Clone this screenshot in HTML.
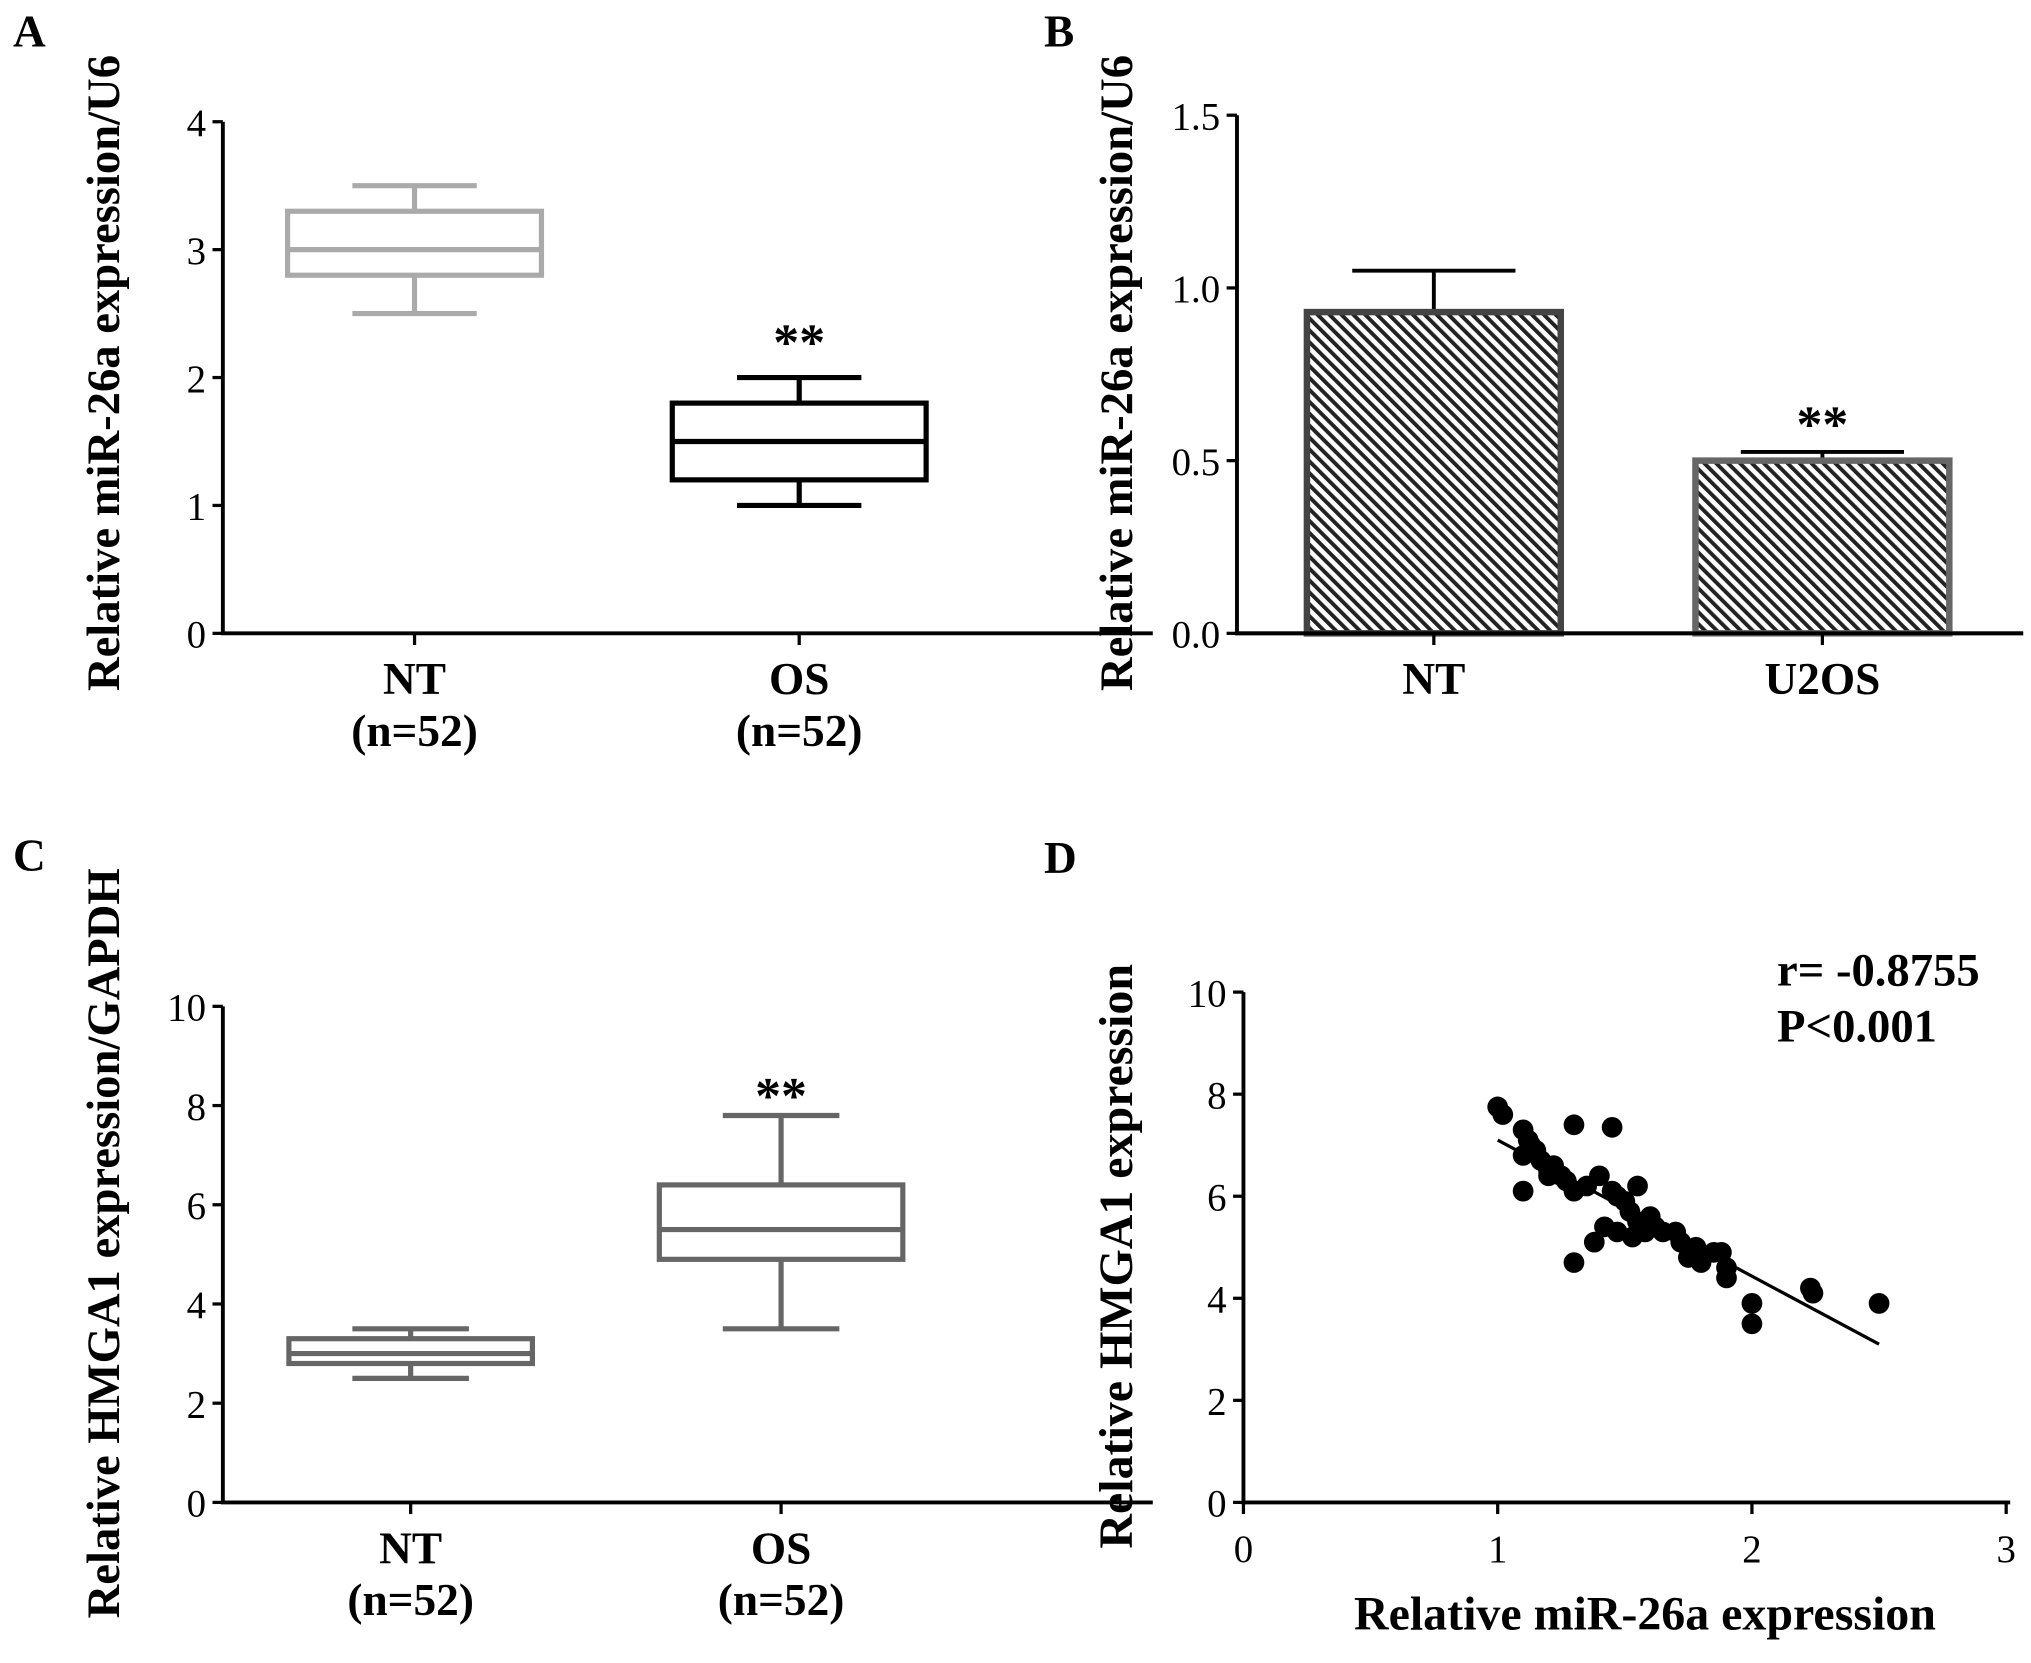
<!DOCTYPE html>
<html><head><meta charset="utf-8"><style>
html,body{margin:0;padding:0;background:#fff;}
svg{display:block;}
text{font-family:"Liberation Serif",serif;fill:#000;}
.b{font-weight:bold;}
</style></head><body>
<svg id="fig" width="2031" height="1663" viewBox="0 0 1568 1284">
<defs>
<pattern id="hatch" patternUnits="userSpaceOnUse" width="6.5" height="6.5" patternTransform="rotate(-45)">
<rect width="6.5" height="6.5" fill="#fff"/><rect x="0" y="0" width="3" height="6.5" fill="#222"/>
</pattern>
</defs>
<g id="root"></g>
</svg>
<script>
// Panel A data
const aCats=["NT","OS"];
const aMin=[2.5,1.0], aQ1=[2.8,1.2], aMed=[3.0,1.5], aQ3=[3.3,1.8], aMax=[3.5,2.0];
const aTicks=[0,1,2,3,4];
// Panel B data
const bCats=["NT","U2OS"];
const bVals=[0.93,0.50], bErr=[0.12,0.025];
const bTicks=["0.0","0.5","1.0","1.5"];
// Panel C data
const cCats=["NT","OS"];
const cMin=[2.5,3.5], cQ1=[2.8,4.9], cMed=[3.0,5.5], cQ3=[3.3,6.4], cMax=[3.5,7.8];
const cTicks=[0,2,4,6,8,10];
// Panel D data
const dX=[1.0,1.02,1.1,1.12,1.15,1.1,1.17,1.2,1.2,1.1,1.25,1.27,1.3,1.3,1.35,1.4,1.45,1.45,1.47,1.5,1.55,1.52,1.55,1.6,1.58,1.42,1.47,1.38,1.3,1.53,1.65,1.7,1.72,1.78,1.8,1.85,1.88,1.9,1.9,2.0,2.0,2.23,2.24,2.5,1.62,1.75,1.13,1.22];
const dY=[7.75,7.6,7.3,7.1,6.9,6.8,6.7,6.5,6.4,6.1,6.4,6.3,6.1,7.4,6.2,6.4,7.35,6.1,6.0,5.9,6.2,5.7,5.5,5.6,5.3,5.4,5.3,5.1,4.7,5.2,5.3,5.3,5.1,5.0,4.7,4.9,4.9,4.6,4.4,3.9,3.5,4.2,4.1,3.9,5.4,4.8,7.0,6.6];
const dFit=[[1.0,7.1],[2.5,3.1]];
const dXTicks=[0,1,2,3], dYTicks=[0,2,4,6,8,10];

const NS="http://www.w3.org/2000/svg";
const root=document.getElementById('root');
const LF=35, TF=30;
function el(tag,attrs,parent){const e=document.createElementNS(NS,tag);for(const k in attrs)e.setAttribute(k,attrs[k]);(parent||root).appendChild(e);return e;}
function txt(s,attrs){const t=el('text',attrs);t.textContent=s;return t;}

[["A",10,36],["B",806,36],["C",10,672],["D",806,674]].forEach(p=>{
 const t=txt(p[0],{x:p[1],y:p[2],'font-size':35,class:'b'});
 
 
});

function yAxis(x0,yOf,ticks,labels,xEnd,name){
 const g=el('g',{});
 
 
 el('line',{x1:x0,y1:yOf(ticks[ticks.length-1]),x2:x0,y2:yOf(ticks[0]),stroke:'#000','stroke-width':3},g);
 el('line',{x1:x0-1.5,y1:yOf(ticks[0]),x2:xEnd,y2:yOf(ticks[0]),stroke:'#000','stroke-width':3},g);
 ticks.forEach((v,i)=>{
  el('line',{x1:x0-8,y1:yOf(v),x2:x0,y2:yOf(v),stroke:'#000','stroke-width':2.5},g);
  const t=txt(labels[i],{x:x0-13,y:yOf(v)+11,'font-size':TF,'text-anchor':'end'});
  
  
 });
}
function yTitle(s,x,yc,name,fs){
 const t=txt(s,{x:0,y:0,'font-size':fs||LF,class:'b','text-anchor':'middle',transform:`translate(${x},${yc}) rotate(-90)`});
 
 
}

// ---- Panel A ----
(function(){
 const x0=172,y0=489,sc=98.75;const yOf=v=>y0-v*sc;
 const cx=[320,617];
 yAxis(x0,yOf,aTicks,aTicks.map(String),890,'panel-a');
 yTitle('Relative miR-26a expression/U6',92,288,'panel-a',36);
 const cols=['#aaa','#000'];
 aCats.forEach((c,i)=>{
  const g=el('g',{});
  
  
  const col=cols[i],w=4;
  el('line',{x1:cx[i],y1:yOf(aMax[i]),x2:cx[i],y2:yOf(aQ3[i]),stroke:col,'stroke-width':w},g);
  el('line',{x1:cx[i],y1:yOf(aMin[i]),x2:cx[i],y2:yOf(aQ1[i]),stroke:col,'stroke-width':w},g);
  el('line',{x1:cx[i]-48,y1:yOf(aMax[i]),x2:cx[i]+48,y2:yOf(aMax[i]),stroke:col,'stroke-width':w},g);
  el('line',{x1:cx[i]-48,y1:yOf(aMin[i]),x2:cx[i]+48,y2:yOf(aMin[i]),stroke:col,'stroke-width':w},g);
  el('rect',{x:cx[i]-98,y:yOf(aQ3[i]),width:196,height:yOf(aQ1[i])-yOf(aQ3[i]),fill:'none',stroke:col,'stroke-width':w},g);
  el('line',{x1:cx[i]-98,y1:yOf(aMed[i]),x2:cx[i]+98,y2:yOf(aMed[i]),stroke:col,'stroke-width':w},g);
  el('line',{x1:cx[i],y1:y0,x2:cx[i],y2:y0+9,stroke:'#000','stroke-width':2.5});
  const t=txt(c,{x:cx[i],y:536,'font-size':LF,class:'b','text-anchor':'middle'});
  
  const n=txt('(n=52)',{x:cx[i],y:576,'font-size':LF,class:'b','text-anchor':'middle'});
  
 });
 const s=txt('**',{x:cx[1],y:yOf(aMax[1])-14,'font-size':40,class:'b','text-anchor':'middle'});
 
})();

// ---- Panel B ----
(function(){
 const x0=955,y0=489,sc=266.7;const yOf=v=>y0-v*sc;
 const cx=[1107,1407];
 yAxis(x0,yOf,bTicks.map(Number),bTicks,1562,'panel-b');
 yTitle('Relative miR-26a expression/U6',874,288,'panel-b',36);
 bCats.forEach((c,i)=>{
  const g=el('g',{});
  
  
  const col=i==0?'#444':'#666';
  el('line',{x1:cx[i],y1:yOf(bVals[i]+bErr[i]),x2:cx[i],y2:yOf(bVals[i]),stroke:'#000','stroke-width':3},g);
  el('line',{x1:cx[i]-63,y1:yOf(bVals[i]+bErr[i]),x2:cx[i]+63,y2:yOf(bVals[i]+bErr[i]),stroke:'#000','stroke-width':3},g);
  el('rect',{x:cx[i]-98,y:yOf(bVals[i]),width:196,height:y0-yOf(bVals[i]),fill:'url(#hatch)',stroke:col,'stroke-width':5},g);
  el('line',{x1:cx[i],y1:y0,x2:cx[i],y2:y0+9,stroke:'#000','stroke-width':2.5});
  const t=txt(c,{x:cx[i],y:536,'font-size':LF,class:'b','text-anchor':'middle'});
  
 });
 el('line',{x1:x0-1.5,y1:y0,x2:1562,y2:y0,stroke:'#000','stroke-width':3});
 const s=txt('**',{x:cx[1],y:yOf(bVals[1]+bErr[1])-8,'font-size':40,class:'b','text-anchor':'middle'});
 
})();

// ---- Panel C ----
(function(){
 const x0=172,y0=1160,sc=38.3;const yOf=v=>y0-v*sc;
 const cx=[317,603];
 yAxis(x0,yOf,cTicks,cTicks.map(String),890,'panel-c');
 yTitle('Relative HMGA1 expression/GAPDH',92,960,'panel-c',36);
 cCats.forEach((c,i)=>{
  const g=el('g',{});
  
  
  const col='#666',w=4;
  el('line',{x1:cx[i],y1:yOf(cMax[i]),x2:cx[i],y2:yOf(cQ3[i]),stroke:col,'stroke-width':w},g);
  el('line',{x1:cx[i],y1:yOf(cMin[i]),x2:cx[i],y2:yOf(cQ1[i]),stroke:col,'stroke-width':w},g);
  el('line',{x1:cx[i]-45,y1:yOf(cMax[i]),x2:cx[i]+45,y2:yOf(cMax[i]),stroke:col,'stroke-width':w},g);
  el('line',{x1:cx[i]-45,y1:yOf(cMin[i]),x2:cx[i]+45,y2:yOf(cMin[i]),stroke:col,'stroke-width':w},g);
  el('rect',{x:cx[i]-94,y:yOf(cQ3[i]),width:188,height:yOf(cQ1[i])-yOf(cQ3[i]),fill:'none',stroke:col,'stroke-width':w},g);
  el('line',{x1:cx[i]-94,y1:yOf(cMed[i]),x2:cx[i]+94,y2:yOf(cMed[i]),stroke:col,'stroke-width':w},g);
  el('line',{x1:cx[i],y1:y0,x2:cx[i],y2:y0+9,stroke:'#000','stroke-width':2.5});
  const t=txt(c,{x:cx[i],y:1207,'font-size':LF,class:'b','text-anchor':'middle'});
  
  const n=txt('(n=52)',{x:cx[i],y:1247,'font-size':LF,class:'b','text-anchor':'middle'});
  
 });
 const s=txt('**',{x:cx[1],y:yOf(cMax[1])-2,'font-size':40,class:'b','text-anchor':'middle'});
 
})();

// ---- Panel D ----
(function(){
 const x0=960,y0=1160,sy=39.4,sx=196.3;const yOf=v=>y0-v*sy, xOf=v=>x0+v*sx;
 yAxis(x0,yOf,dYTicks,dYTicks.map(String),1552,'panel-d');
 yTitle('Relative HMGA1 expression',874,970,'panel-d',37);
 dXTicks.forEach(v=>{
  el('line',{x1:xOf(v),y1:y0,x2:xOf(v),y2:y0+9,stroke:'#000','stroke-width':2.5});
  const t=txt(String(v),{x:xOf(v),y:y0+46,'font-size':TF,'text-anchor':'middle'});
  
 });
 const xt=txt('Relative miR-26a expression',{x:1270,y:1258,'font-size':37,class:'b','text-anchor':'middle'});
 
 const fit=el('line',{x1:xOf(dFit[0][0]),y1:yOf(dFit[0][1]),x2:xOf(dFit[1][0]),y2:yOf(dFit[1][1]),stroke:'#000','stroke-width':2.5});
 
 dX.forEach((x,i)=>{
  const c=el('circle',{cx:xOf(x),cy:yOf(dY[i]),r:8,fill:'#000'});
  
  
 });
 const r=txt('r= -0.8755',{x:1372,y:761,'font-size':36,class:'b'});
 
 const p=txt('P<0.001',{x:1372,y:804,'font-size':36,class:'b'});
 
})();
</script>
</body></html>
